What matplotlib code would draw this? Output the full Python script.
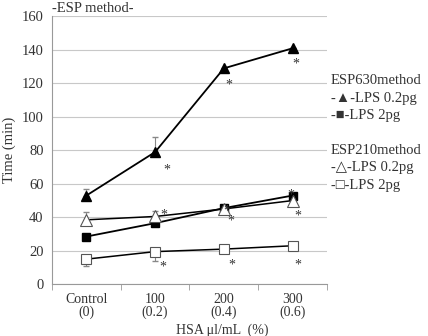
import matplotlib.pyplot as plt

plt.rcParams['font.family'] = ['Liberation Serif', 'DejaVu Sans']

categories = ['Control\n(0)', '100\n(0.2)', '200\n(0.4)', '300\n(0.6)']
x = [0, 1, 2, 3]

esp630_02 = [53, 79, 129, 141]
esp630_02_up = [4, 9, 0, 0]
esp630_2 = [28.5, 36.5, 45.5, 53]
esp210_02 = [38.5, 40.5, 45, 50]
esp210_02_up = [4.5, 3.5, 0, 0]
esp210_2 = [15, 19.5, 21, 23]
esp210_2_dn = [4, 5.5, 1, 0]

stars_x = [1.17, 2.07, 3.05, 1.13, 2.04, 2.1, 2.98, 3.07, 1.11, 2.12, 3.08]
stars_y = [72, 122.5, 135, 45, 47.5, 41, 57, 44, 14, 15, 15]

fig = plt.figure(figsize=(4.28, 3.36), dpi=100)
ax = fig.add_axes([0.1215, 0.154, 0.6425, 0.797])

ax.errorbar(x, esp630_02, yerr=[[0] * 4, esp630_02_up], fmt='none', ecolor='#888888', elinewidth=0.8, capsize=2)
ax.errorbar(x, esp210_02, yerr=[[0] * 4, esp210_02_up], fmt='none', ecolor='#888888', elinewidth=0.8, capsize=2)
ax.errorbar(x, esp210_2, yerr=[esp210_2_dn, [0] * 4], fmt='none', ecolor='#888888', elinewidth=0.8, capsize=2)

ax.plot(x, esp630_02, color='black', lw=1.3, marker='^', ms=7, mfc='black', mec='black', zorder=3)
ax.plot(x, esp630_2, color='black', lw=1.3, marker='s', ms=5.5, mfc='black', mec='black', zorder=3)
ax.plot(x, esp210_02, color='black', lw=1.1, marker='^', ms=8, mfc='white', mec='#555555', mew=0.8, zorder=3)
ax.plot(x, esp210_2, color='black', lw=1.1, marker='s', ms=7, mfc='white', mec='#555555', mew=0.8, zorder=3)

for sx, sy in zip(stars_x, stars_y):
    ax.text(sx, sy - 3.5, '*', ha='center', va='center', fontsize=10, color='#333333')

ax.set_xlim(-0.5, 3.5)
ax.set_ylim(0, 160)
ax.set_yticks(range(0, 161, 20))
ax.set_xticks(x)
ax.set_xticklabels(categories, fontsize=10, color='#333333', linespacing=0.95)
ax.set_xticks([-0.5, 0.5, 1.5, 2.5, 3.5], minor=True)
ax.tick_params(axis='x', which='major', length=0, pad=6)
ax.tick_params(axis='x', which='minor', length=4, color='#999999', direction='out')
ax.tick_params(axis='y', length=0, labelsize=10.5, labelcolor='#333333', pad=6)
ax.grid(axis='y', color='#c8c8c8', lw=0.8)
ax.set_axisbelow(True)
for s in ['top', 'right']:
    ax.spines[s].set_visible(False)
ax.spines['left'].set_color('#999999')
ax.spines['bottom'].set_color('#999999')

ax.set_ylabel('Time (min)', fontsize=10.5, color='#333333', labelpad=4)
ax.set_xlabel('HSA \u03bcl/mL  (%)', fontsize=10, color='#333333')
ax.xaxis.set_label_coords(0.62, -0.145)

fig.text(52 / 428, 1 - 8 / 336, '-ESP method-', fontsize=10.5, color='#333333', va='center', ha='left')

legend_lines = [
    ('ESP630method', 80),
    ('-\u25b2-LPS 0.2pg', 98),
    ('-\u25a0-LPS 2pg', 116),
    ('ESP210method', 150),
    ('-\u25b3-LPS 0.2pg', 168),
    ('-\u25a1-LPS 2pg', 186),
]
for txt, py in legend_lines:
    fig.text(331 / 428, 1 - py / 336, txt, fontsize=10.5, color='#333333', va='center', ha='left')

fig.savefig('out.png', dpi=100)
